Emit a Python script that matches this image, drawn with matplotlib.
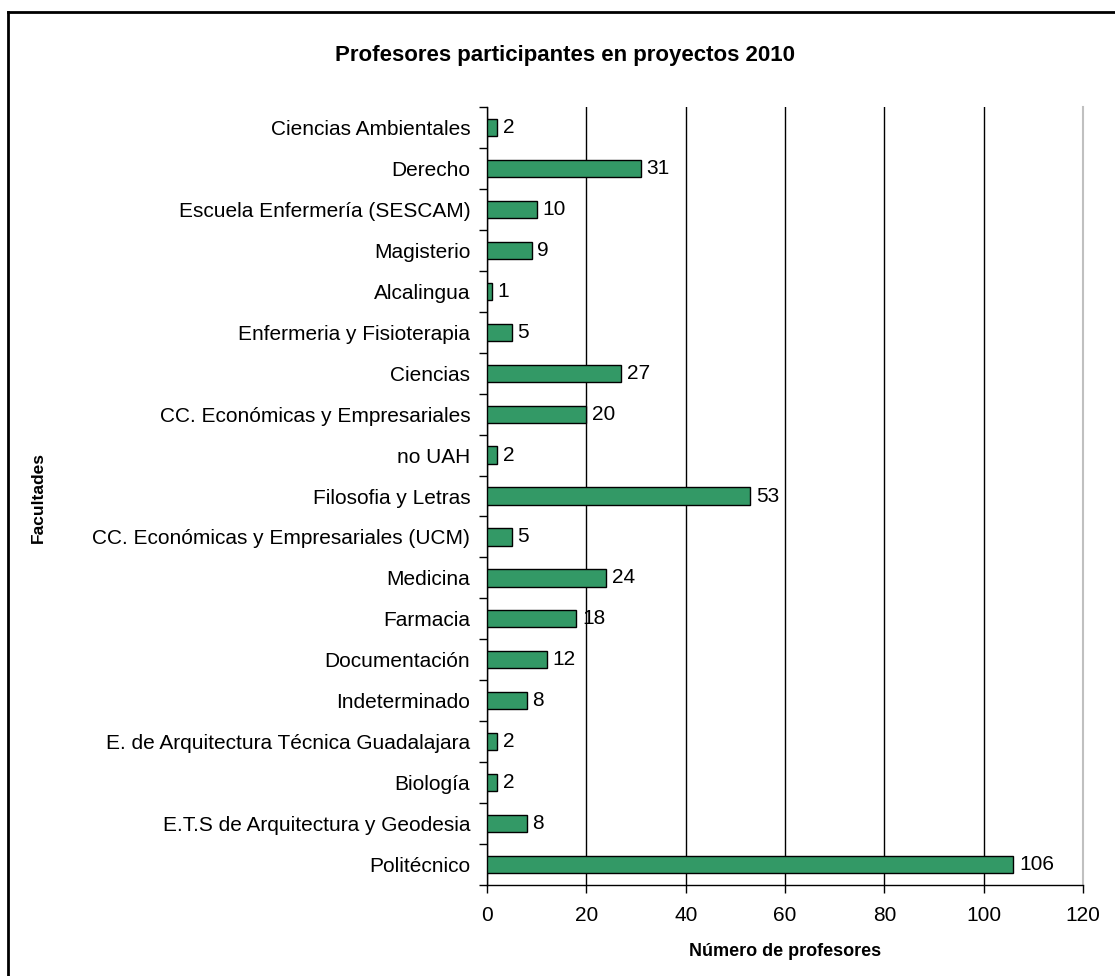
import numpy as np
import matplotlib
matplotlib.use('Agg')
import matplotlib.pyplot as plt
from matplotlib.lines import Line2D

# Categories listed top to bottom as in the chart
facultades = [
    'Ciencias Ambientales',
    'Derecho',
    'Escuela Enfermería (SESCAM)',
    'Magisterio',
    'Alcalingua',
    'Enfermeria y Fisioterapia',
    'Ciencias',
    'CC. Económicas y Empresariales',
    'no UAH',
    'Filosofia y Letras',
    'CC. Económicas y Empresariales (UCM)',
    'Medicina',
    'Farmacia',
    'Documentación',
    'Indeterminado',
    'E. de Arquitectura Técnica Guadalajara',
    'Biología',
    'E.T.S de Arquitectura y Geodesia',
    'Politécnico',
]
profesores = [2, 31, 10, 9, 1, 5, 27, 20, 2, 53, 5, 24, 18, 12, 8, 2, 2, 8, 106]
x_ticks = [0, 20, 40, 60, 80, 100, 120]

plt.rcParams['font.family'] = ['Liberation Sans', 'DejaVu Sans']

fig = plt.figure(figsize=(11.15, 9.76), dpi=100)
ax = fig.add_axes([0.4368, 0.0932, 0.5345, 0.7972])

n = len(facultades)
ypos = np.arange(n)[::-1]
ax.barh(ypos, profesores, height=0.42, color='#339966', edgecolor='black',
        linewidth=1.0, zorder=3)

for y, v in zip(ypos, profesores):
    ax.annotate(str(v), (v, y), xytext=(4, 0), textcoords='offset points',
                va='center', ha='left', fontsize=15)

ax.set_xlim(0, 120)
ax.set_ylim(-0.5, n - 0.5)
ax.set_xticks(x_ticks)
ax.set_xticklabels([str(t) for t in x_ticks], fontsize=15)
ax.xaxis.grid(True, color='black', linewidth=1.0, zorder=0)
ax.tick_params(axis='x', length=6, width=1, pad=9, direction='out')

# category labels centred, tick marks on category boundaries
ax.set_yticks(ypos)
ax.set_yticklabels(facultades, fontsize=15)
ax.tick_params(axis='y', which='major', length=0, pad=12)
ax.set_yticks(np.arange(-0.5, n, 1.0), minor=True)
ax.tick_params(axis='y', which='minor', length=6, width=1, direction='out')

for side in ['left', 'bottom']:
    ax.spines[side].set_color('black')
    ax.spines[side].set_linewidth(1.0)
ax.spines['top'].set_visible(False)
ax.spines['right'].set_color('#c0c0c0')
ax.spines['right'].set_linewidth(1.5)

ax.set_xlabel('Número de profesores', fontsize=13, fontweight='bold', labelpad=13)
fig.text(0.034, 0.4906, 'Facultades', rotation=90, fontsize=12.5, fontweight='bold',
         ha='center', va='center')
fig.text(0.507, 0.943, 'Profesores participantes en proyectos 2010', fontsize=16,
         fontweight='bold', ha='center', va='center')

# outer chart frame (left and top edges visible)
fig.add_artist(Line2D([8 / 1115, 8 / 1115], [0, 1 - 12 / 976], color='black',
                      linewidth=2, transform=fig.transFigure))
fig.add_artist(Line2D([8 / 1115, 1], [1 - 12 / 976, 1 - 12 / 976], color='black',
                      linewidth=2, transform=fig.transFigure))

fig.savefig('out.png', dpi=100)
